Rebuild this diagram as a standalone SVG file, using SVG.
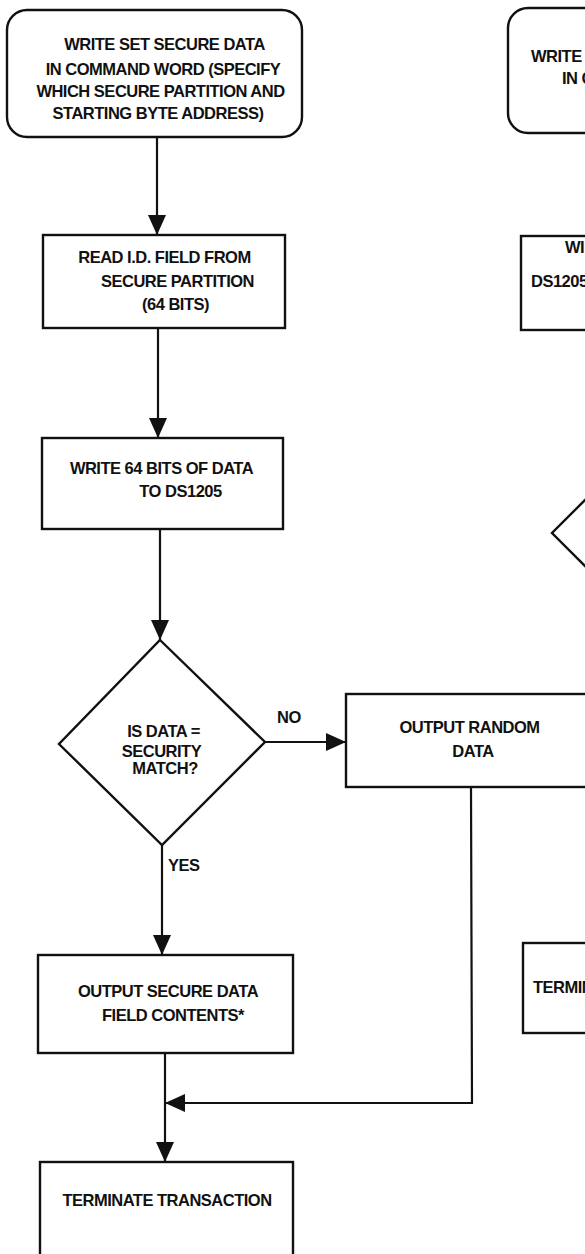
<svg xmlns="http://www.w3.org/2000/svg" width="585" height="1254" viewBox="0 0 585 1254">
  <defs>
    <marker id="arrow" markerUnits="userSpaceOnUse" markerWidth="20" markerHeight="18" viewBox="0 0 20 18" refX="20" refY="9" orient="auto">
      <path d="M0,0 L20,9 L0,18 Z" fill="#111"/>
    </marker>
  </defs>
  <style>
    .shape { fill: #fff; stroke: #111; stroke-width: 2.4; }
    .edge { fill: none; stroke: #111; stroke-width: 2.2; }
    text { font-family: "Liberation Sans", Arial, Helvetica, sans-serif; font-weight: bold; font-size: 16.5px; letter-spacing: -0.5px; fill: #111; }
    .c { text-anchor: middle; }
  </style>

  <rect width="585" height="1254" fill="#fff"/>

  <!-- connectors -->
  <g id="connectors">
    <line class="edge" x1="157" y1="137" x2="157" y2="235" marker-end="url(#arrow)"/>
    <line class="edge" x1="158" y1="328" x2="158" y2="438" marker-end="url(#arrow)"/>
    <line class="edge" x1="160" y1="529" x2="160" y2="640" marker-end="url(#arrow)"/>
    <line class="edge" x1="265" y1="742" x2="346" y2="742" marker-end="url(#arrow)"/>
    <line class="edge" x1="162" y1="845" x2="162" y2="955" marker-end="url(#arrow)"/>
    <line class="edge" x1="165" y1="1053" x2="165" y2="1162" marker-end="url(#arrow)"/>
    <polyline class="edge" points="471,787 472,1103 165,1103" marker-end="url(#arrow)"/>
    <text x="277" y="723">NO</text>
    <text x="168" y="871">YES</text>
  </g>

  <!-- start: set secure data command -->
  <g id="start">
    <rect class="shape" x="7" y="10" width="295" height="127" rx="20" ry="20"/>
    <text class="c" x="164.5" y="50">WRITE SET SECURE DATA</text>
    <text class="c" x="163" y="75">IN COMMAND WORD (SPECIFY</text>
    <text class="c" x="160.5" y="97">WHICH SECURE PARTITION AND</text>
    <text class="c" x="158" y="119">STARTING BYTE ADDRESS)</text>
  </g>

  <g id="read-id">
    <rect class="shape" x="43" y="235" width="242" height="93"/>
    <text class="c" x="164.5" y="263">READ I.D. FIELD FROM</text>
    <text class="c" x="177.5" y="287">SECURE PARTITION</text>
    <text class="c" x="175.5" y="310">(64 BITS)</text>
  </g>

  <g id="write-data">
    <rect class="shape" x="42" y="438" width="241" height="91"/>
    <text class="c" x="161.5" y="474">WRITE 64 BITS OF DATA</text>
    <text class="c" x="180.5" y="497">TO DS1205</text>
  </g>

  <g id="match-check">
    <polygon class="shape" points="160,640 265,742 162,845 59,744"/>
    <text class="c" x="163.5" y="737">IS DATA =</text>
    <text class="c" x="161.5" y="757">SECURITY</text>
    <text class="c" x="165" y="774">MATCH?</text>
  </g>

  <g id="random-data">
    <rect class="shape" x="346" y="694" width="260" height="93"/>
    <text class="c" x="469.5" y="733">OUTPUT RANDOM</text>
    <text class="c" x="473" y="757">DATA</text>
  </g>

  <g id="secure-output">
    <rect class="shape" x="38" y="955" width="255" height="98"/>
    <text class="c" x="168" y="997">OUTPUT SECURE DATA</text>
    <text class="c" x="173" y="1021">FIELD CONTENTS*</text>
  </g>

  <g id="terminate">
    <rect class="shape" x="40" y="1162" width="253" height="110"/>
    <text class="c" x="167" y="1206">TERMINATE TRANSACTION</text>
  </g>

  <!-- adjacent flow, running past the right edge -->
  <g id="next-start">
    <rect class="shape" x="508" y="8" width="140" height="125" rx="20" ry="20"/>
    <text x="531" y="62">WRITE</text>
    <text x="562" y="84">IN C</text>
  </g>

  <g id="next-write">
    <rect class="shape" x="521" y="236" width="120" height="94"/>
    <text x="565" y="253">WI</text>
    <text x="531" y="287">DS1205</text>
  </g>

  <g id="next-check">
    <polygon class="shape" points="655,430 758,533 655,636 552,533"/>
  </g>

  <g id="next-terminate">
    <rect class="shape" x="523" y="943" width="120" height="90"/>
    <text x="533" y="993">TERMINATE</text>
  </g>
</svg>
